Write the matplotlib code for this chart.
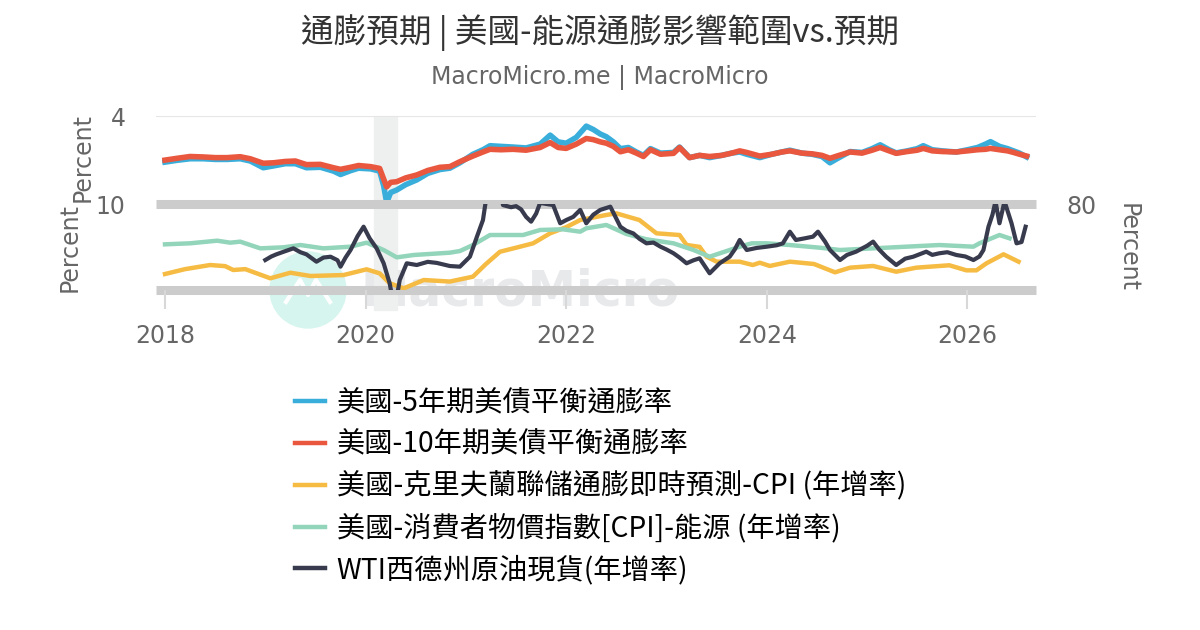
import matplotlib
matplotlib.use("Agg")
import matplotlib.pyplot as plt
import matplotlib.transforms as mtransforms
from matplotlib.patches import Rectangle, Circle
from matplotlib.lines import Line2D

CJK = ["Noto Sans CJK TC", "DejaVu Sans"]

# breakeven inflation (top panel, percent)
be_x = [2018.00, 2018.12, 2018.25, 2018.38, 2018.50, 2018.62, 2018.75, 2018.85, 2018.98,
        2019.08, 2019.20, 2019.30, 2019.41, 2019.55, 2019.68, 2019.75, 2019.85, 2019.93,
        2020.05, 2020.14, 2020.18, 2020.21, 2020.25, 2020.31, 2020.40, 2020.51, 2020.62,
        2020.74, 2020.84, 2020.94, 2021.07, 2021.17, 2021.24, 2021.35, 2021.47, 2021.60,
        2021.74, 2021.84, 2021.92, 2022.00, 2022.10, 2022.20, 2022.27, 2022.34, 2022.40,
        2022.47, 2022.54, 2022.62, 2022.70, 2022.77, 2022.84, 2022.94, 2023.07, 2023.13,
        2023.23, 2023.33, 2023.43, 2023.55, 2023.65, 2023.73, 2023.80, 2023.93, 2024.05,
        2024.15, 2024.23, 2024.35, 2024.45, 2024.55, 2024.63, 2024.72, 2024.83, 2024.95,
        2025.05, 2025.13, 2025.22, 2025.29, 2025.40, 2025.50, 2025.56, 2025.65, 2025.75,
        2025.89, 2026.00, 2026.10, 2026.18, 2026.23, 2026.32, 2026.40, 2026.46, 2026.52,
        2026.59]
be10 = [2.04, 2.12, 2.20, 2.18, 2.15, 2.15, 2.19, 2.10, 1.90,
        1.92, 1.98, 2.00, 1.84, 1.85, 1.70, 1.63, 1.72, 1.80,
        1.75, 1.67, 1.20, 0.85, 1.05, 1.08, 1.25, 1.38, 1.58,
        1.72, 1.75, 1.97, 2.22, 2.40, 2.52, 2.50, 2.52, 2.48,
        2.60, 2.82, 2.60, 2.56, 2.75, 3.00, 2.95, 2.85, 2.79,
        2.65, 2.41, 2.50, 2.35, 2.20, 2.50, 2.30, 2.34, 2.60,
        2.15, 2.25, 2.20, 2.25, 2.35, 2.45, 2.38, 2.22, 2.30,
        2.40, 2.45, 2.35, 2.32, 2.25, 2.12, 2.25, 2.40, 2.35,
        2.48, 2.60, 2.45, 2.34, 2.42, 2.48, 2.56, 2.45, 2.42,
        2.40, 2.45, 2.50, 2.52, 2.56, 2.50, 2.45, 2.38, 2.30,
        2.22]
be5 = [1.95, 2.03, 2.10, 2.10, 2.07, 2.07, 2.10, 2.00, 1.70,
       1.78, 1.88, 1.88, 1.70, 1.72, 1.55, 1.40, 1.57, 1.68,
       1.65, 1.55, 0.90, 0.15, 0.60, 0.71, 0.95, 1.16, 1.45,
       1.62, 1.68, 1.92, 2.30, 2.50, 2.68, 2.65, 2.62, 2.58,
       2.75, 3.15, 2.85, 2.79, 3.05, 3.55, 3.40, 3.20, 3.08,
       2.85, 2.55, 2.60, 2.40, 2.25, 2.55, 2.35, 2.38, 2.62,
       2.15, 2.25, 2.15, 2.25, 2.35, 2.40, 2.30, 2.15, 2.30,
       2.40, 2.48, 2.35, 2.30, 2.20, 1.92, 2.15, 2.42, 2.38,
       2.55, 2.72, 2.50, 2.36, 2.45, 2.55, 2.68, 2.50, 2.45,
       2.40, 2.50, 2.60, 2.75, 2.86, 2.65, 2.55, 2.45, 2.35,
       2.18]

# Cleveland Fed CPI nowcast (left axis, percent)
cpi_x = [2018.00, 2018.20, 2018.45, 2018.60, 2018.68, 2018.80, 2019.05, 2019.25, 2019.45,
         2019.78, 2020.01, 2020.14, 2020.24, 2020.38, 2020.58, 2020.84, 2021.07, 2021.20,
         2021.34, 2021.50, 2021.67, 2021.84, 2022.00, 2022.14, 2022.40, 2022.50, 2022.73,
         2022.90, 2023.05, 2023.13, 2023.20, 2023.33, 2023.40, 2023.50, 2023.73, 2023.86,
         2023.93, 2024.03, 2024.23, 2024.47, 2024.68, 2024.83, 2025.06, 2025.29, 2025.49,
         2025.82, 2025.99, 2026.09, 2026.19, 2026.36, 2026.51]
cpi_now = [1.83, 2.40, 2.88, 2.75, 2.30, 2.40, 1.33, 1.98, 1.60,
           1.71, 2.38, 1.91, 0.75, 0.16, 1.13, 0.95, 1.52, 3.00,
           4.43, 4.90, 5.41, 6.58, 7.30, 8.13, 8.72, 8.91, 8.13,
           6.58, 6.45, 6.38, 5.22, 5.00, 3.85, 3.27, 3.27, 2.88,
           3.15, 2.77, 3.27, 3.00, 2.03, 2.57, 2.77, 2.10, 2.57,
           2.85, 2.26, 2.26, 3.08, 4.13, 3.27]

# CPI energy yoy (right axis, percent)
nrg_x = [2018.00, 2018.25, 2018.52, 2018.65, 2018.75, 2018.95, 2019.18, 2019.35, 2019.58,
         2019.85, 2020.01, 2020.18, 2020.31, 2020.48, 2020.84, 2020.94, 2021.07, 2021.24,
         2021.57, 2021.74, 2021.97, 2022.14, 2022.20, 2022.40, 2022.60, 2022.80, 2023.07,
         2023.27, 2023.43, 2023.63, 2023.73, 2023.85, 2024.00, 2024.23, 2024.53, 2024.73,
         2025.06, 2025.39, 2025.72, 2026.06, 2026.12, 2026.32, 2026.42]
cpi_energy = [4.7, 6.6, 11.5, 7.8, 9.7, -2.8, -0.9, 3.4, -2.8,
              0.3, 7.8, -5.9, -19.6, -15.2, -10.9, -7.8, 3.4, 22.1,
              22.1, 31.5, 32.7, 28.3, 34.6, 40.8, 24.0, 14.1, 6.6,
              -5.9, -18.4, -5.9, 0.3, 6.6, 6.6, 3.4, -1.6, -5.9,
              -2.8, 0.3, 3.4, 0.3, 6.6, 22.1, 15.9]

# WTI spot yoy (right axis, percent)
wti_x = [2019.00, 2019.06, 2019.11, 2019.20, 2019.28, 2019.35, 2019.41, 2019.51, 2019.58,
         2019.65, 2019.72, 2019.75, 2019.80, 2019.85, 2019.92, 2019.98, 2020.04, 2020.11,
         2020.18, 2020.24, 2020.29, 2020.31, 2020.34, 2020.41, 2020.51, 2020.62, 2020.71,
         2020.84, 2020.94, 2021.04, 2021.11, 2021.17, 2021.21, 2021.30, 2021.37, 2021.45,
         2021.50, 2021.55, 2021.60, 2021.65, 2021.70, 2021.74, 2021.87, 2021.94, 2022.00,
         2022.07, 2022.14, 2022.20, 2022.27, 2022.34, 2022.44, 2022.54, 2022.60, 2022.67,
         2022.73, 2022.80, 2022.87, 2022.94, 2023.00, 2023.07, 2023.13, 2023.20, 2023.27,
         2023.33, 2023.43, 2023.53, 2023.63, 2023.68, 2023.73, 2023.80, 2023.90, 2024.00,
         2024.10, 2024.16, 2024.23, 2024.29, 2024.38, 2024.46, 2024.51, 2024.58, 2024.63,
         2024.73, 2024.80, 2024.89, 2025.00, 2025.06, 2025.12, 2025.19, 2025.29, 2025.38,
         2025.46, 2025.59, 2025.65, 2025.72, 2025.80, 2025.89, 2025.98, 2026.06, 2026.12,
         2026.16, 2026.21, 2026.25, 2026.28, 2026.32, 2026.37, 2026.44, 2026.49, 2026.54,
         2026.58]
wti = [-24.6, -18, -14, -8, -2.8, -10, -14, -27.7, -20,
       -18.4, -25, -37, -20, -5.9, 20, 37.6, 16, -2.8,
       -30.7, -68, -120, -95, -62, -30.7, -33.9, -28, -30,
       -35.8, -37, -18.4, 19, 50, 100, 150, 78, 74,
       76, 70, 56, 47, 62, 82, 78, 44, 50,
       56, 69, 44, 60, 69, 75, 37.6, 30, 25,
       15, 6.6, 8, 0.3, -5, -12, -20, -30.7, -25,
       -21.4, -49.4, -30.7, -18.4, -5, 12.8, -5.9, -2, 0.3,
       3, 6.6, 28.3, 12.8, 16, 19, 28.3, 10, -5.9,
       -24.6, -15, -9, 2, 9.7, -5, -18.4, -33.9, -22,
       -18.4, -9, -15, -12, -10, -15.2, -18, -24.6, -18,
       -5.9, 37.6, 60, 85, 44, 85, 44, 6.6, 9,
       37.6]

recession = (2020.08, 2020.31)
year_ticks = [2018, 2020, 2022, 2024, 2026]

labels = ["美國-5年期美債平衡通膨率", "美國-10年期美債平衡通膨率",
          "美國-克里夫蘭聯儲通膨即時預測-CPI (年增率)",
          "美國-消費者物價指數[CPI]-能源 (年增率)", "WTI西德州原油現貨(年增率)"]
colors = ["#3aaedb", "#e9573f", "#f6bb42", "#92d5bb", "#383b4d"]

W, H = 1200, 630
fig = plt.figure(figsize=(12, 6.3), dpi=100)
fig.patch.set_facecolor("white")

def fy(ypx):
    return 1 - ypx / H

x0, x1 = 156, 1036
xlim = (2018 - 9 / 100.3, 2018 + 871 / 100.3)
ax1 = fig.add_axes([x0 / W, fy(206), (x1 - x0) / W, 90 / H])
ax2 = fig.add_axes([x0 / W, fy(289.7), (x1 - x0) / W, 85.7 / H])
ax2r = ax2.twinx()

for ax in (ax1, ax2, ax2r):
    ax.set_facecolor("none")
    for s in ax.spines.values():
        s.set_visible(False)
    ax.set_xlim(*xlim)

grey = "#666666"
fs = 17

# top panel
ax1.set_ylim(0, 4)
ax1.set_yticks([4])
ax1.tick_params(axis="y", length=0, pad=22, labelsize=fs, labelcolor=grey)
ax1.set_xticks([])
ax1.axhline(4, color="#e6e6e6", lw=1.6, zorder=1, solid_capstyle="butt")
ax1.plot(be_x, be5, color=colors[0], lw=4, zorder=3)
ax1.plot(be_x, be10, color=colors[1], lw=4, zorder=4)

# recession shade across both panels
tr = mtransforms.blended_transform_factory(ax1.transData, fig.transFigure)
ax1.add_patch(Rectangle((recession[0], fy(310)), recession[1] - recession[0], (310 - 116) / H,
                        transform=tr, color="#eef0ef", zorder=0, clip_on=False))

# bottom panel
ax2.set_ylim(0, 10)
ax2r.set_ylim(-80, 80)
ax2.set_yticks([10])
ax2r.set_yticks([80])
ax2.tick_params(axis="y", length=0, pad=22, labelsize=fs, labelcolor=grey)
ax2r.tick_params(axis="y", length=0, pad=22, labelsize=fs, labelcolor=grey)
ax2.set_xticks(year_ticks)
ax2.set_xticklabels([str(y) for y in year_ticks])
ax2.tick_params(axis="x", length=14, width=1.5, color="#d8d8d8", pad=11,
                labelsize=fs, labelcolor=grey)
for yv in (0, 10):
    ax2.axhline(yv, color="#cccccc", lw=6.5, zorder=1, clip_on=False, solid_capstyle="butt")
ax2.plot(cpi_x, cpi_now, color=colors[2], lw=3.2, zorder=3)
ax2r.plot(nrg_x, cpi_energy, color=colors[3], lw=3.2, zorder=3)
ax2r.plot(wti_x, wti, color=colors[4], lw=3, zorder=4)

# axis titles
fig.text(83 / W, fy(158), "Percent", rotation=90, ha="center", va="center",
         fontsize=fs, color=grey)
fig.text(70 / W, fy(248), "Percent", rotation=90, ha="center", va="center",
         fontsize=fs, color=grey)
fig.text(1128 / W, fy(248), "Percent", rotation=270, ha="center", va="center",
         fontsize=fs, color=grey)

# watermark: logo circle with a white mark, then the name
fig.patches.append(Circle((3.08, 6.3 - 2.9), 0.38, transform=fig.dpi_scale_trans,
                          color="#d6f5ee", zorder=-3))
mark_x = [2.86, 3.00, 3.08, 3.16, 3.30]
mark_y = [6.3 - 3.02, 6.3 - 2.80, 6.3 - 2.95, 6.3 - 2.80, 6.3 - 3.02]
fig.lines.append(Line2D(mark_x, mark_y, transform=fig.dpi_scale_trans, color="white",
                        lw=3, zorder=-2))
fig.text(520 / W, fy(292), "MacroMicro", ha="center", va="center", fontsize=35,
         fontweight="bold", color="#e8e9eb", zorder=-1)

# titles
fig.text(0.5, fy(33), "通膨預期 | 美國-能源通膨影響範圍vs.預期", ha="center", va="center",
         fontsize=23.5, color="#333333", family=CJK)
fig.text(0.5, fy(77), "MacroMicro.me | MacroMicro", ha="center", va="center",
         fontsize=17, color=grey)

handles = [Line2D([], [], color=c, lw=3.2) for c in colors]
fig.legend(handles, labels, loc="upper left", bbox_to_anchor=(295 / W, fy(388)),
           frameon=False, prop={"family": CJK, "size": 20.3}, handlelength=1.06,
           handletextpad=0.42, labelspacing=0.42, borderaxespad=0, borderpad=0)

fig.savefig("out.png", dpi=100)
